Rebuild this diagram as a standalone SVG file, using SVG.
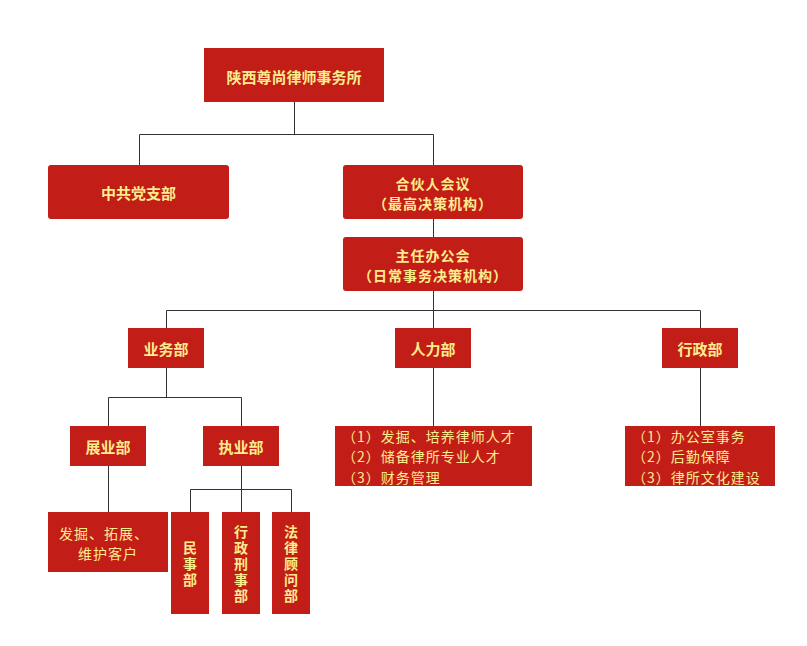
<svg xmlns="http://www.w3.org/2000/svg" width="807" height="646" viewBox="0 0 807 646">
<style>
.box{fill:#c21d17}
.t{font-family:"Noto Sans CJK SC","Liberation Sans",sans-serif;font-size:15px;fill:#fdec8e;text-anchor:middle;dominant-baseline:central}
.s{font-size:14px;letter-spacing:1px}
.b{font-weight:bold}
.l{text-anchor:start}
.v{font-family:"Noto Sans CJK SC","Liberation Sans",sans-serif;font-size:14px;font-weight:bold;fill:#fdec8e;writing-mode:vertical-rl;letter-spacing:2px}
.c{stroke:#333;stroke-width:1;fill:none}
</style>
<rect width="807" height="646" fill="#fff"/>
<g id="connectors">
<path class="c" d="M294.5 102V134.5M139.5 165V134.5H433.5V165"/>
<path class="c" d="M433.5 219V237"/>
<path class="c" d="M433.5 291V310.5M166.5 328V310.5H700.5V328M433.5 310.5V328"/>
<path class="c" d="M166.5 368V397.5M108.5 426V397.5H241.5V426"/>
<path class="c" d="M433.5 368V426"/>
<path class="c" d="M700.5 368V426"/>
<path class="c" d="M108.5 466V512"/>
<path class="c" d="M241.5 466V489.5M190.5 512V489.5H291.5V512M241.5 489.5V512"/>
</g>
<g id="n-top"><rect class="box" x="204" y="48" width="180" height="54"/><text class="t b" x="294" y="76">陕西尊尚律师事务所</text></g>
<g id="n-party"><rect class="box" x="48" y="165" width="181" height="54" rx="3"/><text class="t b" x="138.5" y="192">中共党支部</text></g>
<g id="n-partners"><rect class="box" x="343" y="165" width="180" height="54" rx="3"/><text class="t s b"><tspan x="433" y="182.8">合伙人会议</tspan><tspan x="433" y="203.2">（最高决策机构）</tspan></text></g>
<g id="n-director"><rect class="box" x="343" y="237" width="180" height="54" rx="3"/><text class="t s b"><tspan x="433" y="254.8">主任办公会</tspan><tspan x="433" y="275.2">（日常事务决策机构）</tspan></text></g>
<g id="n-business"><rect class="box" x="128" y="328" width="76" height="40"/><text class="t b" x="166" y="348">业务部</text></g>
<g id="n-hr"><rect class="box" x="395" y="328" width="76" height="40"/><text class="t b" x="433" y="348">人力部</text></g>
<g id="n-admin"><rect class="box" x="662" y="328" width="76" height="40"/><text class="t b" x="700" y="348">行政部</text></g>
<g id="n-expand"><rect class="box" x="70" y="426" width="76" height="40"/><text class="t b" x="108" y="446">展业部</text></g>
<g id="n-practice"><rect class="box" x="203" y="426" width="76" height="40"/><text class="t b" x="241" y="446">执业部</text></g>
<g id="n-hrlist"><rect class="box" x="335" y="426" width="197" height="60"/>
<text class="t s l"><tspan x="342" y="436">（1）发掘、培养律师人才</tspan><tspan x="342" y="456.3">（2）储备律所专业人才</tspan><tspan x="342" y="476.6">（3）财务管理</tspan></text></g>
<g id="n-adminlist"><rect class="box" x="625" y="426" width="150" height="60"/>
<text class="t s l"><tspan x="632" y="436">（1）办公室事务</tspan><tspan x="632" y="456.3">（2）后勤保障</tspan><tspan x="632" y="476.6">（3）律所文化建设</tspan></text></g>
<g id="n-expandlist"><rect class="box" x="48" y="512" width="120" height="60"/>
<text class="t s"><tspan x="104" y="533">发掘、拓展、</tspan><tspan x="108" y="553.3">维护客户</tspan></text></g>
<g id="n-civil"><rect class="box" x="171" y="512" width="38" height="102"/>
<text class="v" x="190" y="541">民事部</text></g>
<g id="n-criminal"><rect class="box" x="222" y="512" width="38" height="102"/>
<text class="v" x="241" y="525">行政刑事部</text></g>
<g id="n-legal"><rect class="box" x="272" y="512" width="38" height="102"/>
<text class="v" x="291" y="525">法律顾问部</text></g>
</svg>
